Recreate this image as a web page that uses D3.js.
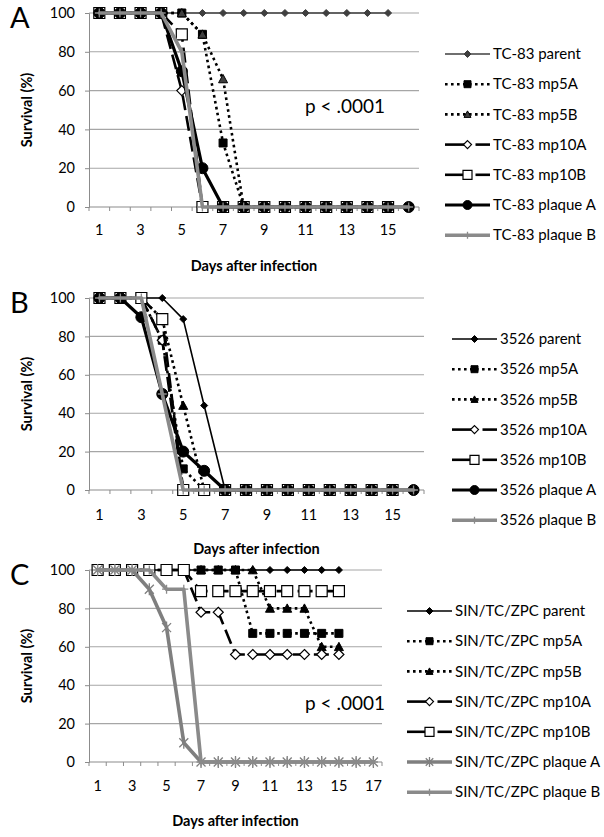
<!DOCTYPE html>
<html>
<head>
<meta charset="utf-8">
<script src="https://cdn.jsdelivr.net/npm/d3@7"></script>
<style>
  html, body { margin: 0; padding: 0; background: #fff; }
  svg { display: block; }
  text { font-family: "Lato", "Liberation Sans", sans-serif; }
</style>
</head>
<body>
<svg id="chart" width="604" height="837"></svg>
<script>
// ---------------- DATA ----------------
const daysA = [1,2,3,4,5,6,7,8,9,10,11,12,13,14,15,16];
const daysB = [1,2,3,4,5,6,7,8,9,10,11,12,13,14,15,16];
const daysC = [1,2,3,4,5,6,7,8,9,10,11,12,13,14,15,16,17];
const xTickLabelsA = [1,3,5,7,9,11,13,15];
const xTickLabelsB = [1,3,5,7,9,11,13,15];
const xTickLabelsC = [1,3,5,7,9,11,13,15,17];
const yTicks = [0,20,40,60,80,100];

// Panel A: TC-83
const tc83Names = ["TC-83 parent","TC-83 mp5A","TC-83 mp5B","TC-83 mp10A","TC-83 mp10B","TC-83 plaque A","TC-83 plaque B"];
const tc83Parent = [100,100,100,100,100,100,100,100,100,100,100,100,100,100,100];
const tc83Mp5A   = [100,100,100,100,100,89,33,0,0,0,0,0,0,0,0];
const tc83Mp5B   = [100,100,100,100,100,89,66,0,0,0,0,0,0,0,0];
const tc83Mp10A  = [100,100,100,100,60,0,0,0,0,0,0,0,0,0,0];
const tc83Mp10B  = [100,100,100,100,89,0,0,0,0,0,0,0,0,0,0];
const tc83PlaqueA = [100,100,100,100,70,20,0,0,0,0,0,0,0,0,0,0];
const tc83PlaqueB = [100,100,100,100,80,0,0,0,0,0,0,0,0,0,0,0];

// Panel B: 3526
const v3526Names = ["3526 parent","3526 mp5A","3526 mp5B","3526 mp10A","3526 mp10B","3526 plaque A","3526 plaque B"];
const v3526Parent = [100,100,100,100,89,44,0,0,0,0,0,0,0,0,0];
const v3526Mp5A   = [100,100,100,78,11,0,0,0,0,0,0,0,0,0,0];
const v3526Mp5B   = [100,100,100,89,44,0,0,0,0,0,0,0,0,0,0];
const v3526Mp10A  = [100,100,100,78,0,0,0,0,0,0,0,0,0,0,0];
const v3526Mp10B  = [100,100,100,89,0,0,0,0,0,0,0,0,0,0,0];
const v3526PlaqueA = [100,100,90,50,20,10,0,0,0,0,0,0,0,0,0,0];
const v3526PlaqueB = [100,100,100,50,0,0,0,0,0,0,0,0,0,0,0,0];

// Panel C: SIN/TC/ZPC
const sinNames = ["SIN/TC/ZPC parent","SIN/TC/ZPC mp5A","SIN/TC/ZPC mp5B","SIN/TC/ZPC mp10A","SIN/TC/ZPC mp10B","SIN/TC/ZPC plaque A","SIN/TC/ZPC plaque B"];
const sinParent = [100,100,100,100,100,100,100,100,100,100,100,100,100,100,100];
const sinMp5A   = [100,100,100,100,100,100,100,100,100,67,67,67,67,67,67];
const sinMp5B   = [100,100,100,100,100,100,100,100,100,100,80,80,80,60,60];
const sinMp10A  = [100,100,100,100,100,100,78,78,56,56,56,56,56,56,56];
const sinMp10B  = [100,100,100,100,100,100,89,89,89,89,89,89,89,89,89];
const sinPlaqueA = [100,100,100,90,70,10,0,0,0,0,0,0,0,0,0,0,0];
const sinPlaqueB = [100,100,100,100,90,90,0,0,0,0,0,0,0,0,0,0,0];

const pText = "p < .0001";

// ---------------- STYLES ----------------
const DK = "#3f3f3f", BK = "#000", GR = "#8a8a8a", GRC = "#7f7f7f";
function styles(panel) {
  return [
    { line: panel === "A" ? DK : BK, width: 1.6, dash: null, marker: "diamond", mfill: panel === "A" ? DK : BK, mstroke: panel === "A" ? DK : BK, msize: 7 },
    { line: BK, width: 2.6, dash: "2.6,3.4", cap: "butt", marker: "square", mfill: BK, mstroke: BK, msize: 8 },
    { line: BK, width: 2.6, dash: "2.6,3.4", cap: "butt", marker: "triangle", mfill: panel === "A" ? DK : BK, mstroke: BK, msize: 9 },
    { line: BK, width: 2.6, dash: "15,6", marker: "odiamond", mfill: "#fff", mstroke: BK, msize: 10 },
    { line: BK, width: 2.6, dash: "15,6", marker: "osquare", mfill: "#fff", mstroke: BK, msize: 11 },
    panel === "C"
      ? { line: GRC, width: 3.6, dash: null, marker: "asterisk", mfill: "none", mstroke: GRC, msize: 12 }
      : { line: BK, width: 3.2, dash: null, marker: "circle", mfill: BK, mstroke: BK, msize: 11 },
    { line: GR, width: 3.6, dash: null, marker: "plus", mfill: "none", mstroke: GR, msize: 9 }
  ];
}

function markerPath(type, s) {
  const h = s / 2;
  switch (type) {
    case "diamond": case "odiamond":
      return `M0,${-h}L${h},0L0,${h}L${-h},0Z`;
    case "square": case "osquare":
      return `M${-h},${-h}H${h}V${h}H${-h}Z`;
    case "triangle":
      return `M0,${-h}L${h},${h*0.85}L${-h},${h*0.85}Z`;
    case "circle":
      return d3.symbol(d3.symbolCircle, Math.PI * h * h)();
    case "plus":
      return `M${-h},0H${h}M0,${-h}V${h}`;
    case "asterisk": {
      const a = h * 0.75;
      return `M${-a},${-a}L${a},${a}M${-a},${a}L${a},${-a}M0,${-h}V${h}`;
    }
  }
}

function drawMarker(g, st, x, y) {
  const open = st.marker === "odiamond" || st.marker === "osquare";
  g.append("path")
    .attr("d", markerPath(st.marker, st.msize))
    .attr("transform", `translate(${x},${y})`)
    .attr("fill", st.mfill)
    .attr("stroke", st.mstroke)
    .attr("stroke-width", (st.marker === "plus" || st.marker === "asterisk") ? 1.3 : (open ? 1.2 : 1));
}

const svg = d3.select("#chart");

function panel(cfg) {
  const x = d3.scaleBand().domain(cfg.days).range([cfg.x0, cfg.x1]).paddingInner(0).paddingOuter(0);
  const y = d3.scaleLinear().domain([0, 100]).range([cfg.yb, cfg.yt]);
  const cx = d => x(d) + x.bandwidth() / 2;
  const g = svg.append("g");

  // gridlines
  g.append("g").selectAll("line").data(yTicks.filter(t => t > 0)).join("line")
    .attr("x1", cfg.x0).attr("x2", cfg.x1)
    .attr("y1", d => y(d)).attr("y2", d => y(d))
    .attr("stroke", "#a6a6a6").attr("stroke-width", 1.1);

  // y axis
  const ya = g.append("g").attr("transform", `translate(${cfg.x0},0)`)
    .call(d3.axisLeft(y).tickValues(yTicks).tickSize(4).tickPadding(10));
  ya.select(".domain").attr("stroke", "#8c8c8c");
  ya.selectAll(".tick line").attr("stroke", "#8c8c8c");
  ya.selectAll("text").attr("font-size", 14.5).attr("fill", "#000")
    .style("font-family", "Lato, 'Liberation Sans', sans-serif");

  // x axis line and boundary tick marks
  g.append("line").attr("x1", cfg.x0).attr("x2", cfg.x1)
    .attr("y1", cfg.yb).attr("y2", cfg.yb).attr("stroke", "#8c8c8c").attr("stroke-width", 1.1);
  g.append("g").selectAll("line").data(cfg.days.concat(["end"])).join("line")
    .attr("x1", d => d === "end" ? cfg.x1 : x(d)).attr("x2", d => d === "end" ? cfg.x1 : x(d))
    .attr("y1", cfg.yb).attr("y2", cfg.yb + 4).attr("stroke", "#8c8c8c");

  // x tick labels
  const xa = g.append("g").attr("transform", `translate(0,${cfg.yb})`)
    .call(d3.axisBottom(x).tickValues(cfg.xLabels).tickSize(0).tickPadding(cfg.xPad));
  xa.select(".domain").remove();
  xa.selectAll("text").attr("font-size", 14.5).attr("fill", "#000")
    .style("font-family", "Lato, 'Liberation Sans', sans-serif");

  // axis titles
  g.append("text").attr("x", (cfg.x0 + cfg.x1) / 2).attr("y", cfg.yb + 64)
    .attr("text-anchor", "middle").attr("font-weight", "bold").attr("font-size", 14.5)
    .text("Days after infection");
  g.append("text")
    .attr("transform", `translate(32,${(cfg.yb + cfg.yt) / 2}) rotate(-90)`)
    .attr("text-anchor", "middle").attr("font-weight", "bold").attr("font-size", 14.5)
    .text("Survival (%)");

  // panel letter
  g.append("text").attr("x", 10).attr("y", cfg.yt + 15).attr("font-size", 29).text(cfg.letter);

  // series
  const sts = styles(cfg.letter);
  cfg.series.forEach((vals, i) => {
    const st = sts[i];
    const pts = vals.map((v, k) => [cx(cfg.days[k]), y(v)]);
    g.append("path").attr("d", d3.line()(pts))
      .attr("fill", "none").attr("stroke", st.line).attr("stroke-width", st.width)
      .attr("stroke-dasharray", st.dash).attr("stroke-linejoin", "round")
      .attr("stroke-linecap", st.dash ? "butt" : "round");
    const mg = g.append("g");
    pts.forEach(p => drawMarker(mg, st, p[0], p[1]));
  });

  // legend
  const lg = g.append("g");
  cfg.names.forEach((nm, i) => {
    const st = sts[i];
    const ly = cfg.legY + i * cfg.legStep;
    const l0 = cfg.legX, l1 = cfg.legX + 45, mid = (l0 + l1) / 2;
    if (st.dash && st.dash.startsWith("15")) {
      lg.append("line").attr("x1", l0).attr("x2", mid - 3).attr("y1", ly).attr("y2", ly)
        .attr("stroke", st.line).attr("stroke-width", st.width);
      lg.append("line").attr("x1", mid + 8).attr("x2", l1).attr("y1", ly).attr("y2", ly)
        .attr("stroke", st.line).attr("stroke-width", st.width);
    } else {
      lg.append("line").attr("x1", l0).attr("x2", l1).attr("y1", ly).attr("y2", ly)
        .attr("stroke", st.line).attr("stroke-width", st.width).attr("stroke-dasharray", st.dash);
    }
    const lst = Object.assign({}, st, { msize: Math.max(st.msize - 2, 7) });
    drawMarker(lg, lst, mid, ly);
    lg.append("text").attr("x", l1 + 3).attr("y", ly).attr("dy", "0.35em")
      .attr("font-size", 15).text(nm);
  });

  if (cfg.p) {
    g.append("text").attr("x", cfg.p[0]).attr("y", cfg.p[1]).attr("dy", "0.35em")
      .attr("font-size", 19).text(pText);
  }
}

panel({
  letter: "A", days: daysA, xLabels: xTickLabelsA,
  x0: 89, x1: 419, yt: 13, yb: 207, xPad: 18,
  series: [tc83Parent, tc83Mp5A, tc83Mp5B, tc83Mp10A, tc83Mp10B, tc83PlaqueA, tc83PlaqueB],
  names: tc83Names, legX: 445, legY: 54, legStep: 30.2, p: [305, 106]
});
panel({
  letter: "B", days: daysB, xLabels: xTickLabelsB,
  x0: 89, x1: 424, yt: 298, yb: 490, xPad: 20,
  series: [v3526Parent, v3526Mp5A, v3526Mp5B, v3526Mp10A, v3526Mp10B, v3526PlaqueA, v3526PlaqueB],
  names: v3526Names, legX: 452, legY: 339, legStep: 30.2, p: null
});
panel({
  letter: "C", days: daysC, xLabels: xTickLabelsC,
  x0: 89, x1: 382, yt: 570, yb: 762, xPad: 19,
  series: [sinParent, sinMp5A, sinMp5B, sinMp10A, sinMp10B, sinPlaqueA, sinPlaqueB],
  names: sinNames, legX: 407, legY: 611, legStep: 30.2, p: [305, 703]
});
</script>
</body>
</html>
